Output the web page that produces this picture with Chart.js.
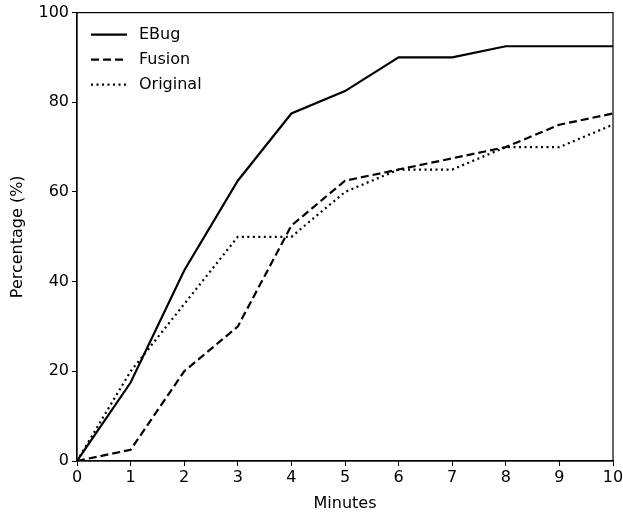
<!DOCTYPE html>
<html>
<head>
<meta charset="utf-8">
<script src="https://cdn.jsdelivr.net/npm/chart.js@4"></script>
<style>
  html, body { margin: 0; padding: 0; background: #fff; }
  #wrap { width: 623px; height: 513px; }
</style>
</head>
<body>
<div id="wrap"><canvas id="chart"></canvas></div>
<script>
const minutes = [0, 1, 2, 3, 4, 5, 6, 7, 8, 9, 10];
const ebug = [0, 17.5, 42.5, 62.5, 77.5, 82.5, 90, 90, 92.5, 92.5, 92.5];
const fusion = [0, 2.5, 20, 30, 52.5, 62.5, 65, 67.5, 70, 75, 77.5];
const original = [0, 20, 35, 50, 50, 60, 65, 65, 70, 70, 75];
const yTicks = [0, 20, 40, 60, 80, 100];

const FONT = "'DejaVu Sans', sans-serif";
const FS = 16;

const toPoints = (values) => values.map((v, i) => ({ x: minutes[i], y: v }));

const makeSeries = (label, values, dash) => ({
    label,
    data: toPoints(values),
    borderColor: "#000",
    borderWidth: 2.2,
    borderDash: dash,
    pointRadius: 0,
    tension: 0,
    fill: false,
});

// frame on all four sides plus a legend in the upper left, matplotlib style
const framePlugin = {
    id: "frame",
    afterDraw(chart) {
        const { ctx, chartArea: a } = chart;
        ctx.save();
        ctx.strokeStyle = "#000";
        ctx.lineWidth = 1.2;
        ctx.setLineDash([]);
        ctx.strokeRect(a.left, a.top, a.right - a.left, a.bottom - a.top);

        ctx.font = FS + "px " + FONT;
        ctx.textBaseline = "middle";
        ctx.fillStyle = "#000";
        chart.data.datasets.forEach((ds, i) => {
            const y = a.top + 22 + i * 25;
            const x0 = a.left + 14;
            ctx.beginPath();
            ctx.lineWidth = 2.2;
            ctx.setLineDash(ds.borderDash || []);
            ctx.moveTo(x0, y);
            ctx.lineTo(x0 + 36, y);
            ctx.stroke();
            ctx.setLineDash([]);
            ctx.fillText(ds.label, x0 + 48, y);
        });
        ctx.restore();
    },
};

new Chart(document.getElementById("chart"), {
    type: "line",
    data: {
        datasets: [
            makeSeries("EBug", ebug, []),
            makeSeries("Fusion", fusion, [8, 4]),
            makeSeries("Original", original, [2, 3.5]),
        ],
    },
    options: {
        responsive: true,
        maintainAspectRatio: false,
        animation: false,
        layout: { padding: { top: 12, right: 0, left: 0, bottom: 0 } },
        plugins: {
            legend: { display: false },
            tooltip: { enabled: false },
        },
        scales: {
            x: {
                type: "linear",
                min: 0,
                max: 10,
                ticks: {
                    stepSize: 1,
                    color: "#000",
                    font: { family: FONT, size: FS },
                    padding: 2,
                },
                grid: { drawOnChartArea: false, drawTicks: true, tickLength: 5, color: "#000" },
                border: { display: true, color: "#000", width: 1.2 },
                title: {
                    display: true,
                    text: "Minutes",
                    color: "#000",
                    font: { family: FONT, size: FS },
                    padding: { top: 3, bottom: 0 },
                },
                afterFit(scale) {
                    scale.height = 52;
                    scale.paddingRight = 10;
                },
            },
            y: {
                min: 0,
                max: 100,
                afterBuildTicks(scale) { scale.ticks = yTicks.map((v) => ({ value: v })); },
                ticks: {
                    color: "#000",
                    font: { family: FONT, size: FS },
                    padding: 3,
                },
                grid: { drawOnChartArea: false, drawTicks: true, tickLength: 5, color: "#000" },
                border: { display: true, color: "#000", width: 1.2 },
                title: {
                    display: true,
                    text: "Percentage (%)",
                    color: "#000",
                    font: { family: FONT, size: FS },
                    padding: { bottom: 6, top: 8 },
                },
                afterFit(scale) { scale.width = 77; },
            },
        },
    },
    plugins: [framePlugin],
});
</script>
</body>
</html>
